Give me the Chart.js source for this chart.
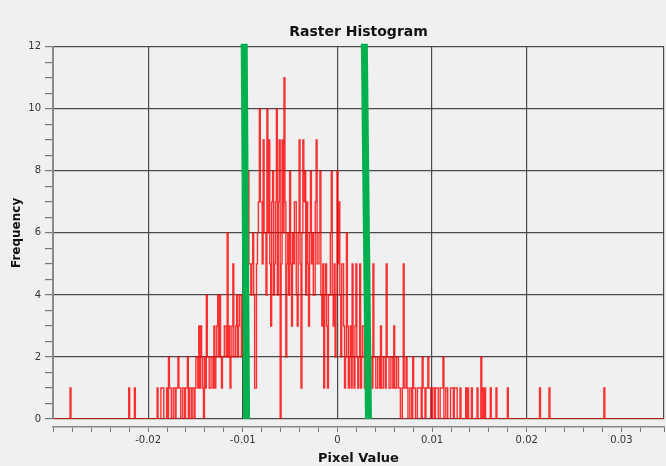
<!DOCTYPE html>
<html>
<head>
<meta charset="utf-8">
<script src="https://cdn.jsdelivr.net/npm/chart.js@4.4.1/dist/chart.umd.min.js"></script>
<style>
  html, body { margin: 0; padding: 0; background: #f0f0f0; }
  canvas { display: block; }
</style>
</head>
<body>
<canvas id="chartCanvas" width="666" height="466"></canvas>
<script>
const canvas = document.getElementById('chartCanvas');
const c = canvas.getContext('2d');

// histogram bins: position of first bin and bin width
const binStart = -0.03;
const binWidth = 0.0001;

// frequency per bin (20 bins per row)
const counts = [
  0,0,0,0,0,0,0,0,0,0,0,0,0,0,0,0,0,0,1,0,
  0,0,0,0,0,0,0,0,0,0,0,0,0,0,0,0,0,0,0,0,
  0,0,0,0,0,0,0,0,0,0,0,0,0,0,0,0,0,0,0,0,
  0,0,0,0,0,0,0,0,0,0,0,0,0,0,0,0,0,0,0,0,
  1,0,0,0,0,0,1,0,0,0,0,0,0,0,0,0,0,0,0,0,
  0,0,0,0,0,0,0,0,0,0,1,0,0,0,1,1,1,0,0,0,
  1,0,2,1,1,0,0,1,1,0,1,1,2,1,1,0,0,1,1,0,
  1,1,2,0,1,1,0,1,1,0,1,2,2,1,3,1,3,2,1,0,
  2,1,4,2,2,1,1,2,2,1,3,1,2,3,4,2,4,2,1,2,
  2,3,3,2,6,2,3,1,2,3,5,2,2,3,4,2,3,4,4,2,
  4,3,3,5,6,4,8,5,5,4,5,6,4,1,1,5,6,7,10,7,
  7,5,9,6,6,4,10,6,9,5,3,7,8,4,5,7,10,4,7,9,
  0,5,9,6,11,7,2,5,6,4,8,5,3,6,5,7,7,4,3,6,
  9,5,1,6,9,7,8,4,7,5,3,6,8,5,6,4,4,7,9,5,
  5,6,8,4,3,5,1,4,5,3,1,4,4,6,8,4,3,5,2,4,
  8,5,7,4,2,5,5,3,1,2,6,3,1,2,3,1,5,2,1,3,
  5,2,1,2,5,1,2,3,3,1,1,2,0,1,1,2,2,1,5,2,
  2,1,1,2,2,1,3,1,1,2,2,1,5,2,2,1,1,2,2,1,
  3,1,1,2,2,1,1,0,0,1,5,1,1,2,1,0,0,1,1,0,
  2,1,1,0,0,1,1,1,1,0,2,1,1,0,1,1,2,1,1,0,
  0,1,1,0,1,1,1,0,0,1,1,1,2,0,0,1,1,0,0,0,
  1,1,1,0,1,1,1,0,0,0,1,0,0,0,0,0,1,0,1,0,
  0,0,1,0,0,0,0,0,1,0,0,0,2,0,1,0,1,0,0,0,
  0,0,1,0,0,0,0,0,1,0,0,0,0,0,0,0,0,0,0,0,
  1,0,0,0,0,0,0,0,0,0,0,0,0,0,0,0,0,0,0,0,
  0,0,0,0,0,0,0,0,0,0,0,0,0,0,1,0,0,0,0,0,
  0,0,0,0,1,0,0,0,0,0,0,0,0,0,0,0,0,0,0,0,
  0,0,0,0,0,0,0,0,0,0,0,0,0,0,0,0,0,0,0,0,
  0,0,0,0,0,0,0,0,0,0,0,0,0,0,0,0,0,0,0,0,
  0,0,1,0,0,0,0,0,0,0,0,0,0,0,0,0,0,0,0,0,
  0,0,0,0,0,0,0,0,0,0,0,0,0,0,0,0,0,0,0,0,
  0,0,0,0,0,0,0,0,0,0,0,0,0,0,0,0,0,0,0,0,
  0,0,0,0,0,0,0,0,0,0,0,0
];

// green range markers: [x at bottom, x at top] (they lean slightly)
const markerLow = [-0.0096, -0.00985];
const markerHigh = [0.00328, 0.00284];

const xMin = -0.03005;
const xMax = 0.0345;
const yMax = 12;

const fontName = '"DejaVu Sans", Verdana, sans-serif';

const histPoints = counts.map((n, i) => ({ x: binStart + i * binWidth, y: n }));

const markerSet = (xs) => ({
    data: [{ x: xs[0], y: 0 }, { x: xs[1], y: yMax + 0.1 }],
    borderColor: '#00b04f',
    borderWidth: 7,
    borderCapStyle: 'butt',
    pointRadius: 0,
    clip: false,
    xAxisID: 'x',
    yAxisID: 'y'
});

const datasets = [
    markerSet(markerLow),
    markerSet(markerHigh),
    {
        data: histPoints,
        borderColor: 'rgba(255,0,0,0.8)',
        borderWidth: 1.4,
        pointRadius: 0,
        stepped: 'middle',
        xAxisID: 'x',
        yAxisID: 'y'
    }
];

const isMajorX = (v) => Math.abs(Math.round(v * 1000) % 10) === 0;

const options = {
    responsive: false,
    animation: false,
    plugins: {
        legend: { display: false },
        tooltip: { enabled: false },
        title: {
            display: true,
            text: 'Raster Histogram',
            fullSize: false,
            color: '#111',
            font: { family: fontName, size: 14, weight: 'bold' },
            padding: { top: 24, bottom: 6 }
        }
    },
    scales: {
        x: {
            type: 'linear',
            position: 'bottom',
            weight: 0,
            min: xMin,
            max: xMax,
            ticks: { display: false, stepSize: 0.01 },
            grid: { color: '#4a4a4a', lineWidth: 1.2, drawTicks: false },
            border: { display: false },
            afterFit: (s) => { s.height = 8; }
        },
        xb: {
            type: 'linear',
            position: 'bottom',
            weight: 1,
            min: xMin,
            max: xMax,
            ticks: {
                stepSize: 0.002,
                autoSkip: false,
                maxRotation: 0,
                padding: 2,
                color: '#333',
                font: { family: fontName, size: 10 },
                callback: (v) => (isMajorX(v) && v > -0.025) ? String(Math.round(v * 100) / 100) : ''
            },
            grid: { drawOnChartArea: false, tickLength: 5, color: '#777' },
            border: { display: true, color: '#888', width: 1.5 },
            title: {
                display: true,
                text: 'Pixel Value',
                color: '#111',
                font: { family: fontName, size: 13, weight: 'bold' },
                padding: 0
            },
            afterFit: (s) => { s.height = 39; }
        },
        y: {
            min: 0,
            max: yMax,
            ticks: {
                stepSize: 0.5,
                autoSkip: false,
                padding: 4,
                color: '#333',
                font: { family: fontName, size: 10 },
                callback: (v) => (v % 2 === 0) ? String(v) : ''
            },
            grid: {
                color: (ctx) => (ctx.tick && ctx.tick.value % 2 === 0) ? '#4a4a4a' : 'rgba(0,0,0,0)',
                lineWidth: 1.2,
                tickColor: '#777',
                tickLength: 8
            },
            border: { color: '#8a8a8a', width: 2 },
            title: {
                display: true,
                text: 'Frequency',
                color: '#111',
                font: { family: fontName, size: 12, weight: 'bold' },
                padding: { top: 10, bottom: 0 }
            },
            afterFit: (s) => { s.width = 53; }
        }
    }
};

new Chart(c, { type: 'line', data: { datasets: datasets }, options: options });
</script>
</body>
</html>
